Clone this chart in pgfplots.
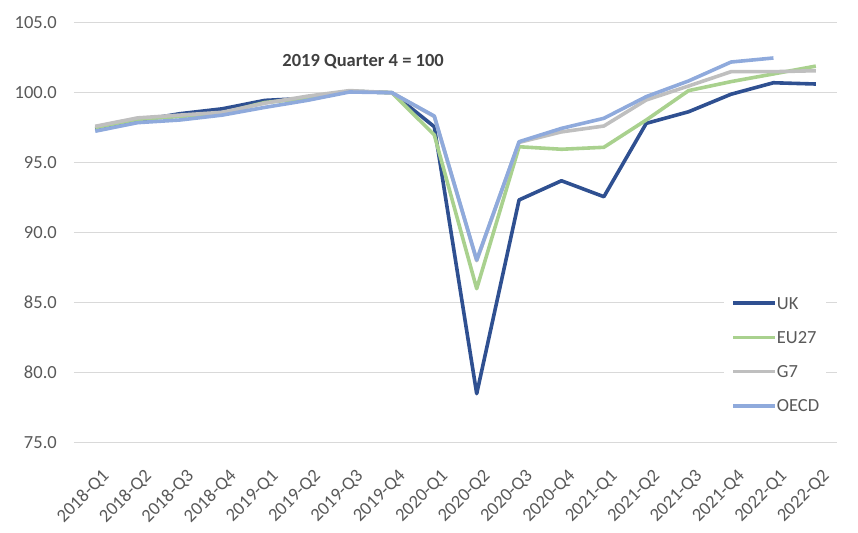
\documentclass[border=0pt]{standalone}
\usepackage{pgfplots}
\pgfplotsset{compat=1.18}
\usepackage{fontspec}
\setmainfont{Carlito}
\definecolor{ukc}{HTML}{2F5091}
\definecolor{euc}{HTML}{A9D18E}
\definecolor{g7c}{HTML}{BFBFBF}
\definecolor{oecdc}{HTML}{8FAADC}
\definecolor{gridc}{HTML}{D9D9D9}
\definecolor{txtc}{HTML}{595959}
\definecolor{annc}{HTML}{404040}
\begin{document}
\begin{tikzpicture}
\begin{axis}[
  at={(0pt,0pt)}, anchor=south west,
  width=763pt, height=420pt, scale only axis=true,
  xmin=-0.5, xmax=17.5, ymin=75, ymax=105,
  ytick={75,80,85,90,95,100,105},
  xtick={0,...,17},
  xticklabels={2018-Q1,2018-Q2,2018-Q3,2018-Q4,2019-Q1,2019-Q2,2019-Q3,2019-Q4,2020-Q1,2020-Q2,2020-Q3,2020-Q4,2021-Q1,2021-Q2,2021-Q3,2021-Q4,2022-Q1,2022-Q2},
  axis line style={draw=none},
  major tick style={draw=none},
  ymajorgrids=true,
  grid style={gridc, line width=1.3pt},
  /pgf/number format/assume math mode=true,
  yticklabel style={/pgf/number format/.cd, fixed, fixed zerofill, precision=1, /tikz/.cd, anchor=east, inner sep=0pt, xshift=-17pt},
  xticklabel style={rotate=45, anchor=north east, inner sep=0pt, xshift=-14pt, yshift=-22pt},
  tick label style={font=\fontsize{18.5}{21}\selectfont, text=txtc},
  legend style={at={(0.852,0.364)}, anchor=north west, draw=none, fill=white,
    inner sep=7pt, row sep=22.3pt,
    nodes={inner sep=0pt, text height=12pt, text depth=0pt, font=\fontsize{18.5}{21}\selectfont, text=txtc},
    /tikz/every even column/.append style={column sep=5pt}},
  legend cell align=left,
  legend image code/.code={\draw[#1] (0pt,0pt) -- (42pt,0pt);},
  every axis plot/.append style={line width=3.6pt, line join=round},
]
\addplot[ukc] coordinates {(0,97.4) (1,98.0) (2,98.5) (3,98.85) (4,99.45) (5,99.6) (6,100.1) (7,100.0) (8,97.57) (9,78.5) (10,92.34) (11,93.71) (12,92.57) (13,97.81) (14,98.64) (15,99.89) (16,100.71) (17,100.62)};
\addlegendentry{UK}
\addplot[euc] coordinates {(0,97.5) (1,98.1) (2,98.3) (3,98.55) (4,99.3) (5,99.6) (6,100.1) (7,100.0) (8,96.98) (9,86.0) (10,96.14) (11,95.96) (12,96.1) (13,98.05) (14,100.15) (15,100.79) (16,101.34) (17,101.9)};
\addlegendentry{EU27}
\addplot[g7c] coordinates {(0,97.6) (1,98.2) (2,98.4) (3,98.6) (4,99.25) (5,99.75) (6,100.15) (7,100.0) (8,98.3) (9,88.0) (10,96.45) (11,97.2) (12,97.62) (13,99.48) (14,100.48) (15,101.5) (16,101.5) (17,101.57)};
\addlegendentry{G7}
\addplot[oecdc] coordinates {(0,97.25) (1,97.86) (2,98.05) (3,98.4) (4,98.95) (5,99.45) (6,100.05) (7,100.0) (8,98.33) (9,88.05) (10,96.5) (11,97.45) (12,98.17) (13,99.72) (14,100.84) (15,102.19) (16,102.48)};
\addlegendentry{OECD}
\node[font=\fontsize{18.5}{21}\selectfont\bfseries, text=annc] at (axis cs:6.32,102.2) {2019 Quarter 4 = 100};
\end{axis}
\pgfresetboundingbox
\path[use as bounding box] (-74pt,-89.3pt) rectangle (784pt,442.7pt);
\end{tikzpicture}
\end{document}
